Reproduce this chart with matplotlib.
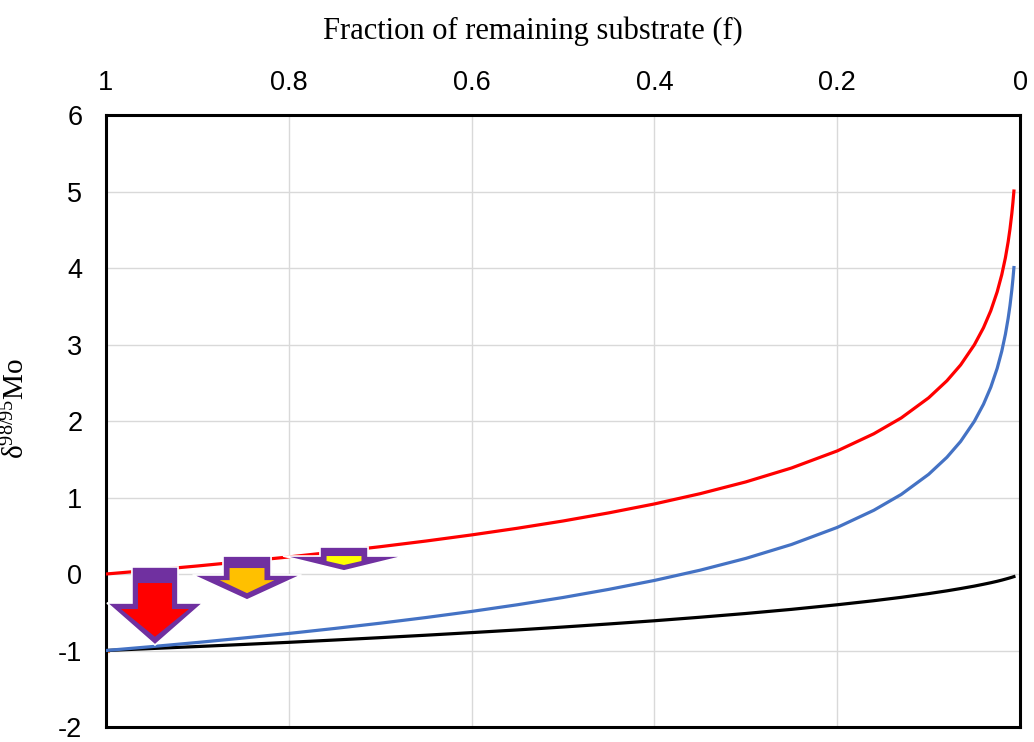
import numpy as np
import matplotlib
matplotlib.use("Agg")
import matplotlib.pyplot as plt
from matplotlib.patches import Polygon

plt.rcParams["axes.unicode_minus"] = False

# Fraction of remaining substrate and Mo isotope compositions
f = [1.0, 0.95, 0.9, 0.85, 0.8, 0.75, 0.7, 0.65, 0.6, 0.55, 0.5, 0.45, 0.4,
     0.35, 0.3, 0.25, 0.2, 0.16, 0.13, 0.1, 0.08, 0.065, 0.05, 0.04, 0.032,
     0.025, 0.02, 0.016, 0.013, 0.011, 0.009, 0.0078, 0.0067]
substrate = [0.0, 0.051, 0.105, 0.163, 0.223, 0.288, 0.357, 0.431, 0.511,
             0.598, 0.693, 0.799, 0.916, 1.050, 1.204, 1.386, 1.609, 1.833,
             2.040, 2.303, 2.526, 2.733, 2.996, 3.219, 3.442, 3.689, 3.912,
             4.135, 4.343, 4.510, 4.711, 4.854, 5.006]
instant_product = [-1.0, -0.949, -0.895, -0.837, -0.777, -0.712, -0.643,
                   -0.569, -0.489, -0.402, -0.307, -0.201, -0.084, 0.050,
                   0.204, 0.386, 0.609, 0.833, 1.040, 1.303, 1.526, 1.733,
                   1.996, 2.219, 2.442, 2.689, 2.912, 3.135, 3.343, 3.510,
                   3.711, 3.854, 4.006]
accum_product = [-1.0, -0.974, -0.948, -0.921, -0.893, -0.863, -0.832, -0.800,
                 -0.766, -0.731, -0.693, -0.653, -0.611, -0.565, -0.516,
                 -0.462, -0.402, -0.349, -0.305, -0.256, -0.220, -0.190,
                 -0.158, -0.134, -0.114, -0.095, -0.080, -0.067, -0.057,
                 -0.050, -0.043, -0.038, -0.034]

x_ticks = [1, 0.8, 0.6, 0.4, 0.2, 0]
x_ticklabels = ["1", "0.8", "0.6", "0.4", "0.2", "0"]
y_ticks = [-2, -1, 0, 1, 2, 3, 4, 5, 6]

# Down arrows: centre f, (half shaft, half head, top, shoulder, tip) outer / inner
arrow_cx = [0.9464, 0.8457, 0.7396]
arrow_outer = [(0.0252, 0.0525, 0.092, -0.379, -0.928),
               (0.0263, 0.0596, 0.235, -0.013, -0.34),
               (0.0263, 0.0667, 0.353, 0.235, 0.04)]
arrow_inner = [(0.0186, 0.0372, -0.118, -0.458, -0.82),
               (0.0191, 0.0300, 0.078, -0.08, -0.25),
               (0.0191, 0.0191, 0.235, 0.17, 0.118)]
arrow_fill = ["#FF0000", "#FFC000", "#FFFF00"]
purple = "#7030A0"


def block_arrow(cx, hs, hh, top, shoulder, tip):
    return [(cx - hs, top), (cx + hs, top), (cx + hs, shoulder),
            (cx + hh, shoulder), (cx, tip), (cx - hh, shoulder),
            (cx - hs, shoulder)]


fig = plt.figure(figsize=(10.34, 7.42), dpi=100)
ax = fig.add_axes([0.1025, 0.0202, 0.884, 0.8248])

ax.plot(f, accum_product, color="black", lw=2.3, zorder=3)
ax.plot(f, instant_product, color="#4472C4", lw=2.3, zorder=3)
ax.plot(f, substrate, color="#FF0000", lw=2.3, zorder=3)
ax.plot([1.0, 0.998], [-1.0, -1.0], color="#ED7D31", lw=2.3, zorder=2)

for cx, outer, inner, col in zip(arrow_cx, arrow_outer, arrow_inner, arrow_fill):
    ax.add_patch(Polygon(block_arrow(cx, *outer), closed=True, fc=purple,
                         ec="white", lw=1.2, zorder=4))
    ax.add_patch(Polygon(block_arrow(cx, *inner), closed=True, fc=col,
                         ec="none", zorder=5))

ax.set_xlim(1, 0)
ax.set_ylim(-2, 6)
ax.set_xticks(x_ticks)
ax.set_xticklabels(x_ticklabels)
ax.set_yticks(y_ticks)
ax.xaxis.tick_top()
ax.xaxis.set_label_position("top")
ax.tick_params(axis="x", length=0, pad=14, labelsize=19.5)
ax.tick_params(axis="y", length=0, pad=17, labelsize=19.5)
for lab in ax.get_xticklabels() + ax.get_yticklabels():
    lab.set_family("Liberation Sans")

ax.grid(True, color="#D9D9D9", lw=1.0)
ax.set_axisbelow(True)
for sp in ax.spines.values():
    sp.set_linewidth(2.2)
    sp.set_color("black")

ax.set_xlabel("Fraction of remaining substrate (f)", family="Liberation Serif",
              fontsize=22)
ax.xaxis.set_label_coords(0.467, 1.125)
ax.set_ylabel(r"$\mathregular{\delta^{98/95}Mo}$", family="Liberation Serif",
              fontsize=21)
ax.yaxis.set_label_coords(-0.083, 0.52)

fig.savefig("out.png", dpi=100)
